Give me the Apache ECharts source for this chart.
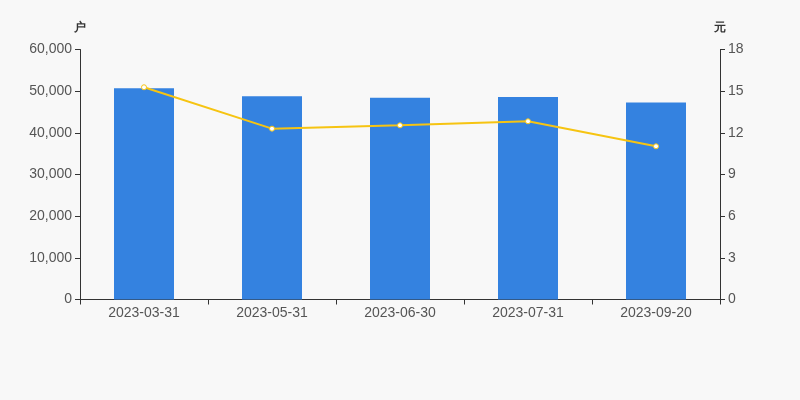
<!DOCTYPE html>
<html><head><meta charset="utf-8">
<script src="https://cdn.jsdelivr.net/npm/echarts@6/dist/echarts.min.js"></script>
<style>html,body{margin:0;padding:0;background:#f8f8f8}#c{width:800px;height:400px}</style>
</head><body><div id="c"></div>
<script>
const categories = ['2023-03-31','2023-05-31','2023-06-30','2023-07-31','2023-09-20'];
const holders = [50700, 48800, 48400, 48600, 47300];
const prices = [15.28, 12.30, 12.54, 12.83, 11.03];
const leftTicks = [0, 60000, 10000];
const rightTicks = [0, 18, 3];

const chart = echarts.init(document.getElementById('c'));
const axisLabel = {color:'#555', fontSize:14};
const axisLine = {show:true, lineStyle:{color:'#333'}};
const nameStyle = {color:'#333', fontSize:12, fontWeight:'bold', padding:[0,0,4,0], align:'center'};
chart.setOption({
  backgroundColor:'#f8f8f8',
  animation:false,
  grid:{left:80, right:80, top:49.5, bottom:100.5},
  xAxis:{type:'category', data:categories, axisLine, axisTick:{show:true, lineStyle:{color:'#333'}}, axisLabel:{...axisLabel, margin:7}},
  yAxis:[
    {type:'value', min:leftTicks[0], max:leftTicks[1], interval:leftTicks[2], name:'户',
     nameTextStyle:nameStyle, nameGap:12,
     axisLine, axisTick:{show:true, lineStyle:{color:'#333'}}, splitLine:{show:false},
     axisLabel:{...axisLabel, formatter:v=>v.toLocaleString('en-US')}},
    {type:'value', min:rightTicks[0], max:rightTicks[1], interval:rightTicks[2], name:'元',
     nameTextStyle:nameStyle, nameGap:12,
     axisLine, axisTick:{show:true, lineStyle:{color:'#333'}}, splitLine:{show:false}, axisLabel}
  ],
  series:[
    {type:'bar', data:holders, barWidth:60, itemStyle:{color:'#3482e0'}},
    {type:'line', yAxisIndex:1, data:prices, symbol:'circle', symbolSize:5,
     lineStyle:{color:'#f6c412', width:2}, itemStyle:{color:'#fff', borderColor:'#f6c412', borderWidth:1}}
  ]
});
</script></body></html>
